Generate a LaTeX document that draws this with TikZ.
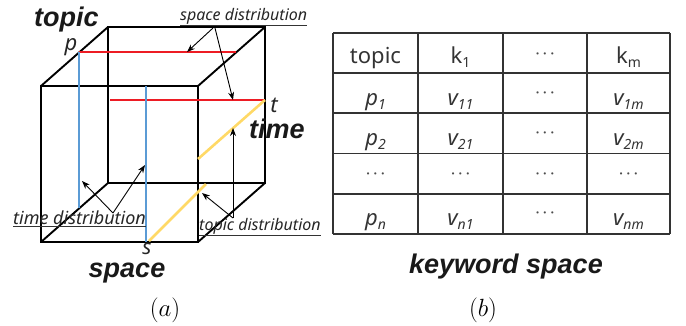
\documentclass[tikz,border=0pt]{standalone}
\usepackage{fontspec}
\setmainfont{Noto Sans}
\newfontfamily\boldlab{Liberation Sans}
\usetikzlibrary{arrows.meta}
\newcommand\tsub[1]{\raisebox{-4.5pt}{\fontsize{14}{14}\selectfont #1}}
\definecolor{cred}{HTML}{ED1C24}
\definecolor{cblue}{HTML}{5B9BD5}
\definecolor{cyellow}{HTML}{FFD966}
\definecolor{tgray}{HTML}{333333}
\begin{document}
\begin{tikzpicture}[x=1pt,y=-1pt,
  cubeedge/.style={line width=1.9pt, black, line join=miter},
  redline/.style={line width=2.6pt, cred},
  blueline/.style={line width=2.6pt, cblue},
  yellowline/.style={line width=2.6pt, cyellow},
  arr/.style={line width=0.9pt, black, -{Stealth[length=8pt,width=6pt]}},
  biglab/.style={font=\boldlab\bfseries\itshape\fontsize{27}{32}\selectfont, inner sep=0, text=black!90},
  smallit/.style={font=\itshape\fontsize{16}{19}\selectfont, inner sep=0, text=black!85},
  letter/.style={font=\itshape\fontsize{22}{26}\selectfont, inner sep=0, text=black!85},
  cell/.style={font=\fontsize{22}{26}\selectfont, inner sep=0, anchor=base, text=tgray},
  dotcell/.style={font=\fontsize{15}{17}\selectfont\boldmath, inner sep=0, anchor=base, text=black!70},
  gridline/.style={line width=1.2pt, tgray},
  captext/.style={font=\fontsize{26}{30}\selectfont, inner sep=0, anchor=base}
]
\useasboundingbox (0,0) rectangle (686,325);
% cube corners
\coordinate (F1) at (41,86);
\coordinate (F2) at (198,86);
\coordinate (F3) at (198,242);
\coordinate (F4) at (41,242);
\coordinate (B1) at (108,27);
\coordinate (B2) at (265,27);
\coordinate (B3) at (265,183);
\coordinate (B4) at (108,183);
\draw[cubeedge] (F1) -- (F2) -- (F3) -- (F4) -- cycle;
\draw[cubeedge] (B1) -- (B2) -- (B3) -- (B4) -- cycle;
\draw[cubeedge] (F1) -- (B1);
\draw[cubeedge] (F2) -- (B2);
\draw[cubeedge] (F3) -- (B3);
\draw[cubeedge] (F4) -- (B4);
% coloured lines
\coordinate (P) at (79,52);
\coordinate (Q) at (236,52);
\coordinate (R1) at (110,100);
\coordinate (T) at (265,100);
\coordinate (P2) at (79,208);
\coordinate (S1) at (146,86);
\coordinate (S) at (146,242);
\coordinate (Y1) at (198,159);
\coordinate (Y2) at (149,241);
\coordinate (Y3) at (206,184);
\draw[redline] (P) -- (Q);
\draw[redline] (R1) -- (T);
\draw[blueline] (P) -- (P2);
\draw[blueline] (S1) -- (S);
\draw[yellowline] (T) -- (Y1);
\draw[yellowline] (Y2) -- (Y3);
% labels
\node[biglab, anchor=base west] (ltopic) at (34,26) {topic};
\node[biglab, anchor=base] (ltime) at (277,138) {time};
\node[biglab, anchor=base] (lspace) at (127,277) {space};
\node[letter, anchor=base] (lp) at (71,50) {p};
\node[letter, anchor=base] (lt) at (274,112) {t};
\node[letter, font=\itshape\fontsize{21}{24}\selectfont, anchor=base] (ls) at (147,254) {s};
% distribution labels
\node[smallit, anchor=base west] (sd) at (180,20) {space distribution};
\draw[line width=0.6pt, black!80] (sd.south west) ++(0,1.5) coordinate (sdu1) -- (sd.south east |- sdu1);
\node[smallit, font=\itshape\fontsize{18}{20}\selectfont, anchor=base west] (td) at (13,224) {time distribution};
\draw[line width=0.6pt, black!80] (td.south west) ++(0,1.5) coordinate (tdu1) -- (td.south east |- tdu1);
\node[smallit, anchor=base west] (pd) at (199,230) {topic distribution};
\draw[line width=0.6pt, black!80] (pd.south west) ++(0,1.5) coordinate (pdu1) -- (pd.south east |- pdu1);
% arrows
\coordinate (sdA) at (213,28);
\coordinate (sdB) at (215,28);
\coordinate (sdT1) at (187,52);
\coordinate (sdT2) at (233,100);
\draw[arr] (sdA) -- (sdT1);
\draw[arr] (sdB) -- (sdT2);
\coordinate (tdA) at (113,213);
\coordinate (tdT1) at (82,181);
\coordinate (tdT2) at (145,165);
\draw[arr] (tdA) -- (tdT1);
\draw[arr] (tdA) -- (tdT2);
\coordinate (pdA) at (233,218);
\coordinate (pdT1) at (233,128);
\coordinate (pdT2) at (202,193);
\draw[arr] (pdA) -- (pdT1);
\draw[arr] (pdA) -- (pdT2);
% table grid
\foreach \yy in {33,73,113,153.5,194,234} \draw[gridline] (333,\yy) -- (670,\yy);
\foreach \xx in {333,418,503,587,670} \draw[gridline] (\xx,33) -- (\xx,234);
% header
\node[cell] (h1) at (375.5,63) {topic};
\node[cell] (h2) at (460.5,63) {k\tsub{1}};
\node[dotcell] (h3) at (545,57) {$\cdots$};
\node[cell] (h4) at (628.5,63) {k\tsub{m}};
% row 1
\node[cell] (r11) at (375.5,105) {\itshape p\tsub{1}};
\node[cell] (r12) at (460.5,105) {\itshape v\tsub{11}};
\node[dotcell] (r13) at (545,96) {$\cdots$};
\node[cell] (r14) at (628.5,105) {\itshape v\tsub{1m}};
% row 2
\node[cell] (r21) at (375.5,145) {\itshape p\tsub{2}};
\node[cell] (r22) at (460.5,145) {\itshape v\tsub{21}};
\node[dotcell] (r23) at (545,136) {$\cdots$};
\node[cell] (r24) at (628.5,145) {\itshape v\tsub{2m}};
% row 3
\node[dotcell] (r31) at (375.5,177) {$\cdots$};
\node[dotcell] (r32) at (460.5,177) {$\cdots$};
\node[dotcell] (r33) at (545,177) {$\cdots$};
\node[dotcell] (r34) at (628.5,177) {$\cdots$};
% row 4
\node[cell] (r41) at (375.5,225) {\itshape p\tsub{n}};
\node[cell] (r42) at (460.5,225) {\itshape v\tsub{n1}};
\node[dotcell] (r43) at (545,216) {$\cdots$};
\node[cell] (r44) at (628.5,225) {\itshape v\tsub{nm}};
% captions
\node[biglab, anchor=base] (kw) at (506,273) {keyword space};
\node[captext] (ca) at (165,316) {$(a)$};
\node[captext] (cb) at (483,316) {$(b)$};
\end{tikzpicture}
\end{document}
